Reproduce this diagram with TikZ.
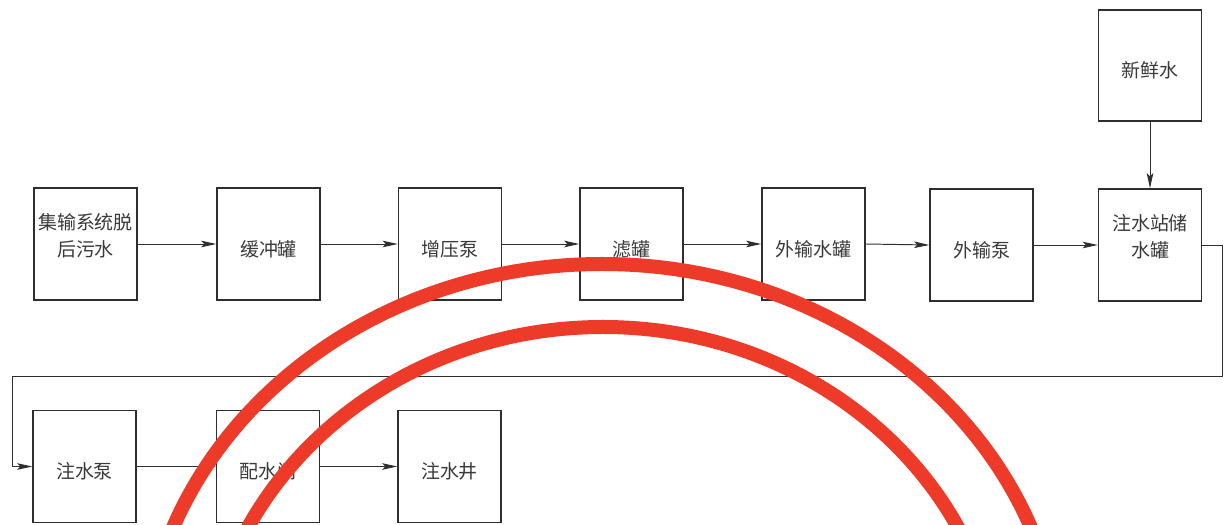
\documentclass[tikz,border=0pt]{standalone}
\usepackage{fontspec}
\newfontfamily\cjk{Noto Sans CJK SC}
\usetikzlibrary{arrows.meta}
\definecolor{ink}{HTML}{2E2E2E}
\definecolor{txt}{HTML}{3A3A3A}
\definecolor{stampred}{RGB}{238,58,40}
\begin{document}
\begin{tikzpicture}[x=0.2mm,y=-0.2mm,
  box/.style={draw=ink, line width=0.85pt, minimum width=20.6mm, minimum height=22.4mm,
    inner sep=0pt, align=center, text=txt, text height=14.6pt,
    font=\cjk\fontsize{10.8pt}{15.3pt}\selectfont},
  flow/.style={draw=ink, line width=0.55pt, -{Stealth[length=3mm,width=1.3mm,inset=0.6mm]}},
  stamp/.style={draw=stampred, line width=2.8mm}]
\fill[white] (0,0) rectangle (1227,525);
% top row
\node[box] (b1) at (85.5,244) {集输系统脱\\后污水};
\node[box] (b2) at (268.5,244) {缓冲罐};
\node[box] (b3) at (450,244) {增压泵};
\node[box] (b4) at (631.5,244) {滤罐};
\node[box] (b5) at (813.5,244) {外输水罐};
\node[box] (b6) at (981.5,245) {外输泵};
\node[box] (b7) at (1150,245) {注水站储\\水罐};
\node[box, minimum height=22.2mm] (fresh) at (1150,65.5) {新鲜水};
% bottom row
\node[box] (p1) at (84.5,466.5) {注水泵};
\node[box] (p2) at (268,466.5) {配水间};
\node[box] (p3) at (449.5,466.5) {注水井};
% connectors
\draw[flow] (b1.east) -- (b2.west);
\draw[flow] (b2.east) -- (b3.west);
\draw[flow] (b3.east) -- (b4.west);
\draw[flow] (b4.east) -- (b5.west);
\draw[flow] (b5.east) -- (b6.west);
\draw[flow] (b6.east) -- (b7.west);
\draw[flow] (fresh.south) -- (b7.north);
\coordinate (r1) at (1222,376);
\coordinate (l1) at (12,466.5);
\draw[flow] (b7.east) -| (r1) -| (l1) -- (p1.west);
\draw[flow] (p1.east) -- (p2.west);
\draw[flow] (p2.east) -- (p3.west);
% red stamp arcs
\begin{scope}
\clip (0,0) rectangle (1227,525);
\draw[stamp] (602,677) ellipse [x radius=92mm, y radius=82.6mm];
\draw[stamp] (603,696) ellipse [x radius=79.8mm, y radius=73.8mm];
\end{scope}
\pgfresetboundingbox
\path[use as bounding box] (0,0) rectangle (1227,525);
\end{tikzpicture}
\end{document}
